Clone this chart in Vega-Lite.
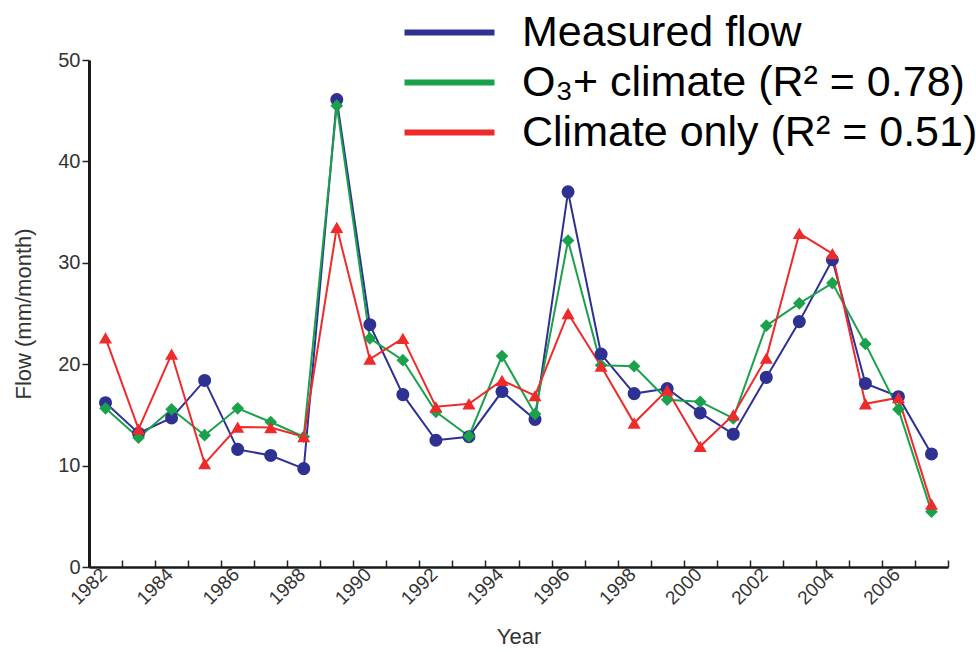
{
  "$schema": "https://vega.github.io/schema/vega-lite/v6.json",
  "width": 859,
  "height": 507,
  "autosize": {"type": "none"},
  "padding": {"left": 89, "top": 60, "right": 28, "bottom": 85},
  "background": "white",
  "config": {
    "view": {"stroke": null},
    "font": "Liberation Sans"
  },
  "data": {
    "values": [
      {"year": 1982, "series": "Measured flow", "flow": 16.2},
      {"year": 1983, "series": "Measured flow", "flow": 13.2},
      {"year": 1984, "series": "Measured flow", "flow": 14.7},
      {"year": 1985, "series": "Measured flow", "flow": 18.4},
      {"year": 1986, "series": "Measured flow", "flow": 11.6},
      {"year": 1987, "series": "Measured flow", "flow": 11.0},
      {"year": 1988, "series": "Measured flow", "flow": 9.7},
      {"year": 1989, "series": "Measured flow", "flow": 46.1},
      {"year": 1990, "series": "Measured flow", "flow": 23.9},
      {"year": 1991, "series": "Measured flow", "flow": 17.0},
      {"year": 1992, "series": "Measured flow", "flow": 12.5},
      {"year": 1993, "series": "Measured flow", "flow": 12.85},
      {"year": 1994, "series": "Measured flow", "flow": 17.3},
      {"year": 1995, "series": "Measured flow", "flow": 14.55},
      {"year": 1996, "series": "Measured flow", "flow": 37.0},
      {"year": 1997, "series": "Measured flow", "flow": 21.0},
      {"year": 1998, "series": "Measured flow", "flow": 17.1},
      {"year": 1999, "series": "Measured flow", "flow": 17.6},
      {"year": 2000, "series": "Measured flow", "flow": 15.2},
      {"year": 2001, "series": "Measured flow", "flow": 13.1},
      {"year": 2002, "series": "Measured flow", "flow": 18.7},
      {"year": 2003, "series": "Measured flow", "flow": 24.2},
      {"year": 2004, "series": "Measured flow", "flow": 30.3},
      {"year": 2005, "series": "Measured flow", "flow": 18.1},
      {"year": 2006, "series": "Measured flow", "flow": 16.8},
      {"year": 2007, "series": "Measured flow", "flow": 11.15},
      {"year": 1982, "series": "O₃+ climate (R² = 0.78)", "flow": 15.65},
      {"year": 1983, "series": "O₃+ climate (R² = 0.78)", "flow": 12.75},
      {"year": 1984, "series": "O₃+ climate (R² = 0.78)", "flow": 15.55},
      {"year": 1985, "series": "O₃+ climate (R² = 0.78)", "flow": 13.0},
      {"year": 1986, "series": "O₃+ climate (R² = 0.78)", "flow": 15.65},
      {"year": 1987, "series": "O₃+ climate (R² = 0.78)", "flow": 14.3},
      {"year": 1988, "series": "O₃+ climate (R² = 0.78)", "flow": 12.85},
      {"year": 1989, "series": "O₃+ climate (R² = 0.78)", "flow": 45.5},
      {"year": 1990, "series": "O₃+ climate (R² = 0.78)", "flow": 22.55},
      {"year": 1991, "series": "O₃+ climate (R² = 0.78)", "flow": 20.4},
      {"year": 1992, "series": "O₃+ climate (R² = 0.78)", "flow": 15.3},
      {"year": 1993, "series": "O₃+ climate (R² = 0.78)", "flow": 12.9},
      {"year": 1994, "series": "O₃+ climate (R² = 0.78)", "flow": 20.8},
      {"year": 1995, "series": "O₃+ climate (R² = 0.78)", "flow": 15.1},
      {"year": 1996, "series": "O₃+ climate (R² = 0.78)", "flow": 32.2},
      {"year": 1997, "series": "O₃+ climate (R² = 0.78)", "flow": 19.9},
      {"year": 1998, "series": "O₃+ climate (R² = 0.78)", "flow": 19.8},
      {"year": 1999, "series": "O₃+ climate (R² = 0.78)", "flow": 16.5},
      {"year": 2000, "series": "O₃+ climate (R² = 0.78)", "flow": 16.3},
      {"year": 2001, "series": "O₃+ climate (R² = 0.78)", "flow": 14.65},
      {"year": 2002, "series": "O₃+ climate (R² = 0.78)", "flow": 23.8},
      {"year": 2003, "series": "O₃+ climate (R² = 0.78)", "flow": 26.0},
      {"year": 2004, "series": "O₃+ climate (R² = 0.78)", "flow": 28.0},
      {"year": 2005, "series": "O₃+ climate (R² = 0.78)", "flow": 22.0},
      {"year": 2006, "series": "O₃+ climate (R² = 0.78)", "flow": 15.55},
      {"year": 2007, "series": "O₃+ climate (R² = 0.78)", "flow": 5.45},
      {"year": 1982, "series": "Climate only (R² = 0.51)", "flow": 22.6},
      {"year": 1983, "series": "Climate only (R² = 0.51)", "flow": 13.6},
      {"year": 1984, "series": "Climate only (R² = 0.51)", "flow": 21.0},
      {"year": 1985, "series": "Climate only (R² = 0.51)", "flow": 10.2},
      {"year": 1986, "series": "Climate only (R² = 0.51)", "flow": 13.8},
      {"year": 1987, "series": "Climate only (R² = 0.51)", "flow": 13.75},
      {"year": 1988, "series": "Climate only (R² = 0.51)", "flow": 12.85},
      {"year": 1989, "series": "Climate only (R² = 0.51)", "flow": 33.5},
      {"year": 1990, "series": "Climate only (R² = 0.51)", "flow": 20.5},
      {"year": 1991, "series": "Climate only (R² = 0.51)", "flow": 22.55},
      {"year": 1992, "series": "Climate only (R² = 0.51)", "flow": 15.8},
      {"year": 1993, "series": "Climate only (R² = 0.51)", "flow": 16.1},
      {"year": 1994, "series": "Climate only (R² = 0.51)", "flow": 18.4},
      {"year": 1995, "series": "Climate only (R² = 0.51)", "flow": 16.9},
      {"year": 1996, "series": "Climate only (R² = 0.51)", "flow": 25.0},
      {"year": 1997, "series": "Climate only (R² = 0.51)", "flow": 19.8},
      {"year": 1998, "series": "Climate only (R² = 0.51)", "flow": 14.2},
      {"year": 1999, "series": "Climate only (R² = 0.51)", "flow": 17.45},
      {"year": 2000, "series": "Climate only (R² = 0.51)", "flow": 11.9},
      {"year": 2001, "series": "Climate only (R² = 0.51)", "flow": 15.0},
      {"year": 2002, "series": "Climate only (R² = 0.51)", "flow": 20.6},
      {"year": 2003, "series": "Climate only (R² = 0.51)", "flow": 32.9},
      {"year": 2004, "series": "Climate only (R² = 0.51)", "flow": 30.9},
      {"year": 2005, "series": "Climate only (R² = 0.51)", "flow": 16.1},
      {"year": 2006, "series": "Climate only (R² = 0.51)", "flow": 16.7},
      {"year": 2007, "series": "Climate only (R² = 0.51)", "flow": 6.2}
    ]
  },
  "encoding": {
    "x": {
      "field": "year",
      "type": "quantitative",
      "scale": {"domain": [1981.5, 2007.5], "nice": false, "zero": false},
      "axis": {
        "title": "Year",
        "titleFontSize": 22,
        "titleFontWeight": "normal",
        "titleColor": "#333333",
        "titlePadding": 19,
        "values": [1981.5, 1982, 1982.5, 1983.5, 1984, 1984.5, 1985.5, 1986, 1986.5, 1987.5, 1988, 1988.5, 1989.5, 1990, 1990.5, 1991.5, 1992, 1992.5, 1993.5, 1994, 1994.5, 1995.5, 1996, 1996.5, 1997.5, 1998, 1998.5, 1999.5, 2000, 2000.5, 2001.5, 2002, 2002.5, 2003.5, 2004, 2004.5, 2005.5, 2006, 2006.5, 2007.5],
        "labelExpr": "datum.value % 2 === 0 ? '' + datum.value : ''",
        "labelOverlap": false,
        "labelBound": false,
        "labelAngle": -45,
        "labelAlign": "right",
        "labelBaseline": "middle",
        "labelFontSize": 19,
        "labelColor": "#333333",
        "labelPadding": 11,
        "labelOffset": -2,
        "tickOpacity": {"condition": {"test": "datum.value % 1 === 0", "value": 0}, "value": 1},
        "tickColor": "#222222",
        "tickWidth": 1.5,
        "tickSize": -7,
        "domainColor": "#1a1a1a",
        "domainWidth": 2.5,
        "grid": false
      }
    },
    "y": {
      "field": "flow",
      "type": "quantitative",
      "scale": {"domain": [0, 50], "nice": false},
      "axis": {
        "title": "Flow (mm/month)",
        "titleFontSize": 22,
        "titleFontWeight": "normal",
        "titleColor": "#333333",
        "titlePadding": 22,
        "values": [0, 10, 20, 30, 40, 50],
        "labelFontSize": 20,
        "labelColor": "#333333",
        "labelPadding": 2,
        "tickColor": "#222222",
        "tickWidth": 1.5,
        "tickSize": 7,
        "domainColor": "#1a1a1a",
        "domainWidth": 3,
        "grid": false
      }
    }
  },
  "layer": [
    {
      "mark": {"type": "line", "strokeWidth": 2},
      "encoding": {
        "color": {
          "field": "series",
          "type": "nominal",
          "sort": null,
          "scale": {
            "domain": ["Measured flow", "O₃+ climate (R² = 0.78)", "Climate only (R² = 0.51)"],
            "range": ["#2e3192", "#1ba04b", "#ee2a2a"]
          },
          "legend": {
            "orient": "none",
            "legendX": 339,
            "legendY": -49,
            "title": null,
            "symbolType": "M-3,0H3",
            "symbolSize": 900,
            "symbolStrokeWidth": 6,
            "labelFontSize": 43,
            "labelFont": "Liberation Sans",
            "labelColor": "#000000",
            "labelOffset": 51,
            "labelLimit": 700,
            "rowPadding": 6,
            "encode": {
              "symbols": {
                "update": {
                  "stroke": {"signal": "indexof(datum.value, 'Measured') >= 0 ? '#234a7a' : (indexof(datum.value, 'O') === 0 ? '#078a1c' : '#ff0000')"}
                }
              }
            }
          }
        }
      }
    },
    {
      "transform": [{"filter": "datum.series === 'Measured flow'"}],
      "mark": {"type": "point", "shape": "circle", "filled": true, "opacity": 1, "size": 170, "color": "#2e3192"}
    },
    {
      "transform": [{"filter": "indexof(datum.series, 'O') === 0"}],
      "mark": {"type": "point", "shape": "diamond", "filled": true, "opacity": 1, "size": 160, "color": "#1ba04b"}
    },
    {
      "transform": [{"filter": "indexof(datum.series, 'Climate') === 0"}],
      "mark": {"type": "point", "shape": "triangle-up", "filled": true, "opacity": 1, "size": 170, "color": "#ee2a2a"}
    }
  ]
}
